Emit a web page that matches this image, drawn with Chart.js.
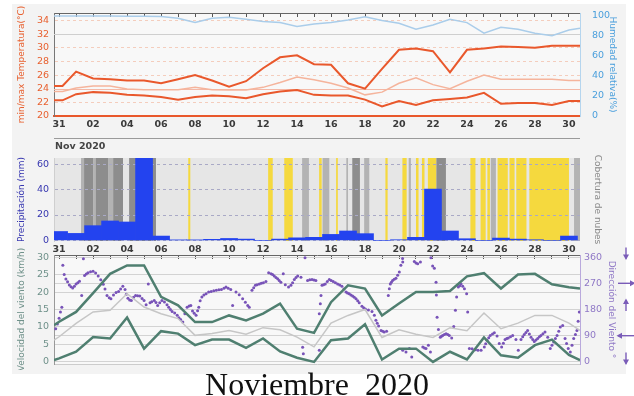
<!DOCTYPE html>
<html lang="es">
<head>
<meta charset="utf-8">
<title>Noviembre 2020</title>
<script src="https://cdn.jsdelivr.net/npm/chart.js@4.4.1/dist/chart.umd.min.js"></script>
<style>
  html, body { margin: 0; padding: 0; background: #fff; }
  #page { position: relative; width: 634px; height: 396px; overflow: hidden; }
  #frame { position: absolute; left: 12px; top: 4px; width: 614px; height: 370px; background: #f3f3f3; }
  canvas { position: absolute; left: 0; }
  #temp { top: 0; }
  #rain { top: 135px; }
  #wind { top: 243px; }
  #caption { position: absolute; left: 0; width: 634px; top: 368px; text-align: center;
             font: 32px "Liberation Serif", serif; line-height: 32px; color: #111; }
</style>
</head>
<body>
<div id="page">
  <div id="frame"></div>
  <canvas id="temp" width="634" height="135"></canvas>
  <canvas id="rain" width="634" height="120"></canvas>
  <canvas id="wind" width="634" height="127"></canvas>
  <div id="caption">Noviembre&nbsp; 2020</div>
</div>
<script>
// ============ Data ============
// x = days since 31 oct (0 = 31, 1 = 01 nov ... 30 = 30 nov)
const xMin = -0.3, xMax = 30.65;
const dayTicks = [0, 2, 4, 6, 8, 10, 12, 14, 16, 18, 20, 22, 24, 26, 28, 30];
const dayTickLabels = ['31', '02', '04', '06', '08', '10', '12', '14', '16', '18', '20', '22', '24', '26', '28', '30'];
const dayMarks = [0, 1, 2, 3, 4, 5, 6, 7, 8, 9, 10, 11, 12, 13, 14, 15, 16, 17, 18, 19, 20, 21, 22, 23, 24, 25, 26, 27, 28, 29, 30];

const tempTicks = [20, 22, 24, 26, 28, 30, 32, 34];
const humTicks = [0, 20, 40, 60, 80, 100];
const rainTicks = [0, 10, 20, 30, 40, 50, 60];
const speedTicks = [0, 5, 10, 15, 20, 25, 30];
const dirTicks = [0, 90, 180, 270, 360];
const dirArrows = [0, 90, 180, 270, 360];
const tempRefLines = [24, 32];

// temperatura / humedad
const tempDays = [-0.3, 0.2, 1, 2, 3, 4, 5, 6, 7, 8, 9, 10, 11, 12, 13, 14, 15, 16, 17, 18, 19, 20,
  21, 22, 23, 24, 25, 26, 27, 28, 29, 30, 30.65];
const tempMax = [24.4, 24.4, 26.5, 25.5, 25.4, 25.2, 25.2, 24.8, 25.4, 26.0, 25.2, 24.3,
  25.1, 27.0, 28.6, 28.9, 27.6, 27.5, 24.8, 24.0, 26.9, 29.7,
  29.9, 29.5, 26.4, 29.7, 29.9, 30.2, 30.1, 30.0, 30.3, 30.3, 30.3];
const tempMin = [22.3, 22.3, 23.2, 23.5, 23.4, 23.1, 23.0, 22.8, 22.4, 22.8, 23.0, 22.9,
  22.6, 23.2, 23.6, 23.8, 23.1, 23.0, 23.0, 22.4, 21.4, 22.2,
  21.6, 22.3, 22.5, 22.7, 23.4, 21.8, 21.9, 21.9, 21.6, 22.2, 22.2];
const tempMean = [23.6, 23.6, 24.1, 24.4, 24.4, 23.95, 23.85, 23.85, 23.85, 24.2, 23.85, 23.8,
  23.8, 24.2, 24.9, 25.7, 25.3, 24.8, 24.1, 23.1, 23.5, 24.8,
  25.6, 24.6, 24.0, 25.1, 26.0, 25.4, 25.4, 25.4, 25.4, 25.2, 25.2];
const humidity = [100, 100, 100, 100, 100, 99.8, 99.8, 99.5, 97.7, 93.4, 97.7, 98.7,
  96.7, 94.4, 93.4, 89.4, 92, 93.4, 96, 99.3, 95.4, 92.7,
  86.8, 91, 96.7, 93.4, 82.8, 88.8, 86.8, 82.8, 80.2, 86, 87.8];

// precipitación diaria (mm)
const rainDays = dayMarks;
const rain = [7, 5.5, 11.6, 15.3, 14.5, 68, 3.4, 0.3, 0.3, 0.8,
  1.5, 1, 0, 1, 2, 2.4, 4.7, 7.4, 5.3, 0,
  0.5, 2.4, 40.5, 7.4, 1.3, 0, 1.8, 1, 0.5, 0, 3.4];

// cobertura de nubes (%), por tramos
const cloudFrom = [1.29, 1.47, 2.0, 2.15, 2.88, 3.18, 4.12, 7.6, 12.3, 13.25, 14.3, 15.3, 15.5, 16.3, 16.9, 17.25,
  17.95, 19.2, 20.2, 20.57, 21.0, 21.35, 21.7, 22.2, 24.2, 24.8, 25.2, 25.4, 25.8, 26.5, 26.9, 27.67, 30.3];
const cloudTo = [1.47, 2.0, 2.15, 2.88, 3.18, 3.76, 5.7, 7.72, 12.57, 13.75, 14.7, 15.45, 15.9, 16.4, 17.0, 17.7,
  18.25, 19.33, 20.45, 20.7, 21.15, 21.5, 22.2, 22.76, 24.5, 25.1, 25.35, 25.7, 26.4, 26.8, 27.5, 30.0, 30.65];
const cloudCover = [70, 100, 70, 100, 70, 100, 100, 0, 0, 0, 70, 0, 70, 0, 70, 100,
  70, 0, 0, 70, 0, 0, 0, 100, 0, 0, 0, 70, 0, 0, 0, 0, 70];

// viento
const windDays = [-0.3, 0, 1, 2, 3, 4, 5, 6, 7, 8, 9, 10, 11, 12, 13, 14, 15, 16, 17, 18, 19, 20,
  21, 22, 23, 24, 25, 26, 27, 28, 29, 30, 30.65];
const windMax = [10.5, 11.5, 14.3, 19.7, 25.2, 27.6, 27.6, 18.6, 16.2, 11.4, 11.4, 13.3,
  11.9, 13.8, 16.7, 9.5, 8.3, 17.1, 21.9, 21.0, 13.3, 16.7,
  20.0, 20.0, 20.3, 24.5, 25.4, 21.0, 25.0, 25.2, 22.2, 21.4, 21.0];
const windMin = [0.5, 1.0, 2.9, 7.1, 6.7, 12.7, 3.8, 8.8, 8.1, 4.8, 6.4, 6.4,
  4.0, 6.7, 3.0, 1.2, 0, 6.2, 6.7, 10.8, 0.7, 3.8,
  3.8, 0, 2.9, 0.7, 7.0, 1.9, 1.2, 4.8, 6.4, 2.0, 0.5];
const windMean = [6.2, 7.2, 11.0, 14.3, 14.8, 19.5, 15.7, 13.8, 12.4, 7.6, 8.1, 9.0,
  7.9, 9.8, 9.2, 7.1, 4.3, 11.1, 13.3, 15.0, 7.0, 9.2,
  7.9, 7.0, 9.8, 8.9, 14.0, 9.5, 11.1, 13.3, 13.3, 11.1, 9.0];

const windDirDays = [
  -0.2, -0.1, 0, 0.08, 0.16, 0.22, 0.3, 0.4, 0.5, 0.6, 0.7, 0.8, 0.9, 1.0, 1.1, 1.2, 1.33, 1.43, 1.5, 1.6, 1.7, 1.85,
  2.0, 2.15, 2.3, 2.45, 2.6, 2.7, 2.82, 2.95, 3.05, 3.2, 3.35, 3.5, 3.62, 3.75, 3.88, 3.96, 4.05, 4.15, 4.25, 4.38,
  4.5, 4.62, 4.75, 4.88, 5.0, 5.12, 5.25, 5.35, 5.45, 5.6, 5.7, 5.8, 5.92, 6.05, 6.2, 6.35, 6.45, 6.55, 6.65, 6.8,
  6.95, 7.05, 7.15, 7.28, 7.4, 7.53, 7.65, 7.75, 7.85, 7.95, 8.06, 8.15, 8.22, 8.3, 8.4, 8.52, 8.65, 8.8, 8.95, 9.1,
  9.25, 9.4, 9.55, 9.7, 9.82, 9.95,
  10.1, 10.21, 10.41, 10.6, 10.8, 10.96, 11.1, 11.19, 11.35, 11.45, 11.55, 11.65, 11.78, 11.9, 12.02, 12.17, 12.33,
  12.47, 12.56, 12.66, 12.76, 12.86, 12.95, 13.05, 13.19, 13.31, 13.5, 13.64, 13.74, 13.84, 13.94, 14.04, 14.23,
  14.33, 14.37, 14.47, 14.62, 14.75, 14.88, 15.0, 15.11, 15.31, 15.31, 15.37, 15.41, 15.47, 15.56, 15.66, 15.78,
  15.9, 16.01, 16.13, 16.26, 16.39, 16.51, 16.64, 16.76, 16.88, 16.97, 17.07, 17.17, 17.27, 17.37, 17.47, 17.57,
  17.66, 17.82, 17.92, 18.02, 18.2, 18.41, 18.55, 18.64, 18.72, 18.8, 18.94, 19.04, 19.13, 19.27, 19.37, 19.43,
  19.49, 19.55, 19.62, 19.72, 19.82, 19.92, 20.02, 20.11, 20.21,
  20.22, 20.22, 20.41, 20.61, 20.75, 20.9, 21.0, 21.1, 21.26, 21.4, 21.5, 21.59, 21.73, 21.85, 21.88, 21.98, 22.08,
  22.18, 22.2, 22.24, 22.32, 22.43, 22.5, 22.57, 22.67, 22.77, 22.87, 22.96, 23.1, 23.22, 23.32, 23.39, 23.49,
  23.57, 23.65, 23.75, 23.85, 23.98, 24.04, 24.14, 24.3, 24.5, 24.65, 24.83, 25.02, 25.1, 25.18, 25.28, 25.37,
  25.5, 25.61, 25.77, 25.9, 26.04, 26.14, 26.24, 26.34, 26.43, 26.56, 26.69, 26.88, 27.02, 27.18, 27.28, 27.37,
  27.47, 27.57, 27.67, 27.77, 27.87, 27.96, 28.06, 28.16, 28.26, 28.35, 28.47, 28.59, 28.75, 28.9, 29.0, 29.1,
  29.2, 29.3, 29.4, 29.49, 29.63, 29.77, 29.86, 29.96, 30.08, 30.18, 30.28, 30.38, 30.47, 30.54, 30.61];
const windDir = [
  114, 130, 150, 171, 188, 332, 300, 285, 275, 264, 258, 254, 260, 268, 272, 277, 228, 354, 297, 302, 306, 310,
  311, 305, 295, 282, 267, 250, 228, 220, 217, 230, 238, 242, 250, 260, 249, 232, 219, 213, 211, 222,
  228, 227, 226, 218, 211, 196, 268, 203, 207, 211, 204, 194, 203, 211, 206, 196, 188, 180, 173, 168,
  160, 152, 146, 137, 165, 188, 192, 194, 175, 167, 160, 176, 188, 210, 223, 230, 234, 240, 242, 244,
  246, 248, 249, 253, 257, 253,
  249, 194, 240, 231, 217, 205, 194, 188, 246, 255, 263, 265, 268, 270, 272, 276, 306,
  303, 300, 295, 290, 286, 280, 274, 303, 265, 257, 263, 272, 283, 290, 295, 291,
  50, 28, 358, 280, 282, 283, 281, 280, 165, 40, 200, 228, 263, 265, 268, 276,
  283, 280, 276, 272, 268, 264, 260, 250, 240, 237, 234, 230, 226, 222, 217, 210,
  203, 191, 186, 182, 178, 173, 160, 143, 133, 123, 108, 105, 103, 105, 228, 251,
  268, 274, 280, 284, 287, 298, 309, 332, 355,
  343, 40, 34, 46, 17, 345, 340, 337, 343, 51, 48, 46, 57, 34, 358, 329, 322,
  274, 230, 153, 111, 85, 88, 91, 94, 97, 94, 91, 82, 122, 177, 223, 257,
  262, 268, 260, 251, 234, 171, 46, 45, 42, 40, 40, 51, 62, 74, 83, 91,
  96, 100, 89, 63, 51, 64, 77, 80, 82, 86, 91, 77, 40, 77, 86, 94,
  101, 108, 96, 85, 77, 70, 75, 80, 86, 91, 97, 103, 85, 46, 57, 68,
  80, 91, 105, 120, 125, 80, 63, 46, 34, 57, 80, 94, 108, 140, 171];

// ============ Helpers ============
const FONT = 'DejaVu Sans';
const pts = (xs, ys) => xs.map((x, i) => ({ x, y: ys[i] }));
const setTicks = list => s => { s.ticks = list.map(v => ({ value: v })); };
const fixBox = (w, h) => s => {
  if (w !== undefined) s.width = w;
  if (h !== undefined) s.height = h;
  s.paddingTop = s.paddingBottom = s.paddingLeft = s.paddingRight = 0;
};
const dayLabel = v => { const i = dayTicks.indexOf(v); return i < 0 ? '' : dayTickLabels[i]; };

function dayAxis(height, labels, border) {
  return {
    type: 'linear', position: 'bottom', min: xMin, max: xMax, offset: false,
    afterBuildTicks: setTicks(dayTicks), afterFit: fixBox(undefined, height),
    grid: { display: false, drawTicks: false },
    border: border,
    ticks: { display: labels, callback: dayLabel, color: '#3a3a3a', padding: 3, maxRotation: 0, autoSkip: false,
             font: { family: FONT, size: 9.5, weight: 'bold' } }
  };
}
function topMarks(height) {
  return {
    type: 'linear', position: 'top', min: xMin, max: xMax, offset: false,
    afterBuildTicks: setTicks(dayMarks), afterFit: fixBox(undefined, height),
    grid: { drawOnChartArea: false, drawTicks: true, tickLength: -4, tickColor: '#555', color: '#555' },
    border: { color: '#666' },
    ticks: { display: false }
  };
}
function sideTitle(text, color, pad) {
  return { display: true, text, color, font: { family: FONT, size: 9 }, padding: { top: pad, bottom: 0 } };
}
const tickFont = { family: FONT, size: 9.5 };

// ============ Plugins ============
const areaBg = {
  id: 'areaBg',
  beforeDraw(chart, args, opts) {
    const { ctx, chartArea: a } = chart;
    ctx.save();
    ctx.fillStyle = opts.color;
    ctx.fillRect(a.left, a.top, a.width, a.height);
    if (opts.clouds) {
      const x = chart.scales.x;
      cloudFrom.forEach((from, i) => {
        const c = cloudCover[i];
        ctx.fillStyle = c >= 90 ? '#8d8d8d' : (c >= 50 ? '#b3b3b3' : '#f5d93e');
        const x1 = Math.max(a.left, x.getPixelForValue(from));
        const x2 = Math.min(a.right, x.getPixelForValue(cloudTo[i]));
        ctx.fillRect(x1, a.top, x2 - x1, a.height);
      });
    }
    ctx.restore();
  }
};

const refLines = {
  id: 'refLines',
  beforeDatasetsDraw(chart) {
    const { ctx, chartArea: a } = chart;
    const y = chart.scales.yT;
    ctx.save();
    ctx.lineWidth = 1;
    tempRefLines.forEach(v => {
      ctx.strokeStyle = v === 24 ? '#f4b8a6' : '#cfcfcf';
      const py = Math.round(y.getPixelForValue(v)) + 0.5;
      ctx.beginPath(); ctx.moveTo(a.left, py); ctx.lineTo(a.right, py); ctx.stroke();
    });
    ctx.restore();
  }
};

const rainHeader = {
  id: 'rainHeader',
  afterDraw(chart) {
    const { ctx, chartArea: a } = chart;
    ctx.save();
    ctx.strokeStyle = '#9a9a9a';
    ctx.lineWidth = 1;
    ctx.beginPath(); ctx.moveTo(a.left, 3.5); ctx.lineTo(a.right, 3.5); ctx.stroke();
    ctx.fillStyle = '#444';
    ctx.font = 'bold 9.5px "DejaVu Sans"';
    ctx.textBaseline = 'middle';
    ctx.fillText('Nov 2020', a.left + 1, 12);
    ctx.restore();
  }
};

const windArrows = {
  id: 'windArrows',
  afterDraw(chart) {
    const { ctx } = chart;
    const s = chart.scales.yD;
    const cx = 626;
    ctx.save();
    ctx.strokeStyle = ctx.fillStyle = '#7a5cb8';
    ctx.lineWidth = 1.4;
    dirArrows.forEach(deg => {
      const to = (deg + 180) * Math.PI / 180;
      const dx = Math.sin(to), dy = -Math.cos(to);
      const cy = s.getPixelForValue(deg) - (Math.abs(dy) > 0.5 ? 4 : 0);
      const len = Math.abs(dy) > 0.5 ? 11 : 16;
      const x1 = cx - dx * len / 2, y1 = cy - dy * len / 2;
      const x2 = cx + dx * len / 2, y2 = cy + dy * len / 2;
      ctx.beginPath(); ctx.moveTo(x1, y1); ctx.lineTo(x2, y2); ctx.stroke();
      ctx.beginPath();
      ctx.moveTo(x2 + dx * 1.5, y2 + dy * 1.5);
      ctx.lineTo(x2 - dx * 4 - dy * 3, y2 - dy * 4 + dx * 3);
      ctx.lineTo(x2 - dx * 4 + dy * 3, y2 - dy * 4 - dx * 3);
      ctx.closePath(); ctx.fill();
    });
    ctx.restore();
  }
};

const base = { responsive: false, animation: false, events: [] };

// ============ Temperatura / humedad ============
new Chart(document.getElementById('temp'), {
  type: 'line',
  data: {
    datasets: [
      { data: pts(tempDays, humidity), yAxisID: 'yH', borderColor: '#aacdea', borderWidth: 1.5, pointRadius: 0 },
      { data: pts(tempDays, tempMean), yAxisID: 'yT', borderColor: '#f5b49c', borderWidth: 1.5, pointRadius: 0 },
      { data: pts(tempDays, tempMax), yAxisID: 'yT', borderColor: '#e9582c', borderWidth: 2, pointRadius: 0 },
      { data: pts(tempDays, tempMin), yAxisID: 'yT', borderColor: '#e9582c', borderWidth: 2, pointRadius: 0 }
    ]
  },
  options: Object.assign({}, base, {
    layout: { padding: 0 },
    plugins: { legend: { display: false }, tooltip: { enabled: false }, areaBg: { color: '#f8f8f8' } },
    scales: {
      x: dayAxis(19, true, { color: '#e9582c', width: 2 }),
      xTop: topMarks(13),
      yT: {
        position: 'left', min: 20, max: 35.1, afterBuildTicks: setTicks(tempTicks), afterFit: fixBox(54),
        grid: { drawTicks: false, color: c => tempRefLines.includes(c.tick.value) ? 'rgba(0,0,0,0)' : '#f4cdbd' },
        border: { color: '#777', dash: [3, 3] },
        ticks: { color: '#e8602f', font: tickFont, padding: 5 },
        title: sideTitle('min/max Temperatura(°C)', '#e8602f', 16)
      },
      yH: {
        position: 'right', min: 0, max: 103, afterBuildTicks: setTicks(humTicks), afterFit: fixBox(54),
        grid: { display: false }, border: { color: '#b5d5ee' },
        ticks: { color: '#4a9fdc', font: tickFont, padding: 4 },
        title: sideTitle('Humedad relativa(%)', '#4a9fdc', 16)
      }
    }
  }),
  plugins: [areaBg, refLines]
});

// ============ Precipitación / nubes ============
new Chart(document.getElementById('rain'), {
  type: 'bar',
  data: {
    datasets: [{
      data: pts(rainDays, rain), yAxisID: 'yP', backgroundColor: '#2343ef', borderWidth: 0,
      barPercentage: 1, categoryPercentage: 1, grouped: false
    }]
  },
  options: Object.assign({}, base, {
    layout: { padding: { top: 23 } },
    plugins: { legend: { display: false }, tooltip: { enabled: false }, areaBg: { color: '#e6e6e6', clouds: true } },
    scales: {
      x: dayAxis(14, true, { display: false }),
      yP: {
        position: 'left', min: -0.5, max: 65, afterBuildTicks: setTicks(rainTicks), afterFit: fixBox(54),
        grid: { drawTicks: false, color: '#a9a9c6' },
        border: { color: '#cfcfcf', dash: [3, 3] },
        ticks: { color: '#3636b0', font: tickFont, padding: 5 },
        title: sideTitle('Precipitación (mm)', '#3636b0', 16)
      },
      yC: {
        position: 'right', min: 0, max: 100, afterFit: fixBox(54),
        grid: { display: false }, border: { display: false }, ticks: { display: false },
        title: sideTitle('Cobertura de nubes', '#8a8a8a', 31)
      }
    }
  }),
  plugins: [areaBg, rainHeader]
});

// ============ Viento ============
new Chart(document.getElementById('wind'), {
  type: 'line',
  data: {
    datasets: [
      { data: pts(windDays, windMean), yAxisID: 'yS', borderColor: '#c6c6c6', borderWidth: 1.5, pointRadius: 0 },
      { data: pts(windDays, windMax), yAxisID: 'yS', borderColor: '#4f7f70', borderWidth: 2.5, pointRadius: 0 },
      { data: pts(windDays, windMin), yAxisID: 'yS', borderColor: '#4f7f70', borderWidth: 2.5, pointRadius: 0 },
      { data: pts(windDirDays, windDir), yAxisID: 'yD', showLine: false, pointRadius: 1.5, pointBorderWidth: 0,
        pointBackgroundColor: '#7853b8' }
    ]
  },
  options: Object.assign({}, base, {
    layout: { padding: 0 },
    plugins: { legend: { display: false }, tooltip: { enabled: false }, areaBg: { color: '#f8f8f8' } },
    scales: {
      x: Object.assign(dayAxis(6, false, { color: '#cccccc' })),
      xTop: topMarks(12),
      yS: {
        position: 'left', min: -0.6, max: 30.6, afterBuildTicks: setTicks(speedTicks), afterFit: fixBox(54),
        grid: { drawTicks: false, color: '#d3d3d3' }, border: { color: '#999' },
        ticks: { color: '#6f918a', font: tickFont, padding: 5 },
        title: sideTitle('Velocidad del viento (km/h)', '#6f918a', 16)
      },
      yD: {
        position: 'right', min: -7.2, max: 367.2, afterBuildTicks: setTicks(dirTicks), afterFit: fixBox(54),
        grid: { drawTicks: false, color: '#d3d3d3' }, border: { color: '#b9a9dc' },
        ticks: { color: '#8f78c6', font: tickFont, padding: 4 },
        title: sideTitle('Dirección del Viento °', '#8f78c6', 17)
      }
    }
  }),
  plugins: [areaBg, windArrows]
});
</script>
</body>
</html>
